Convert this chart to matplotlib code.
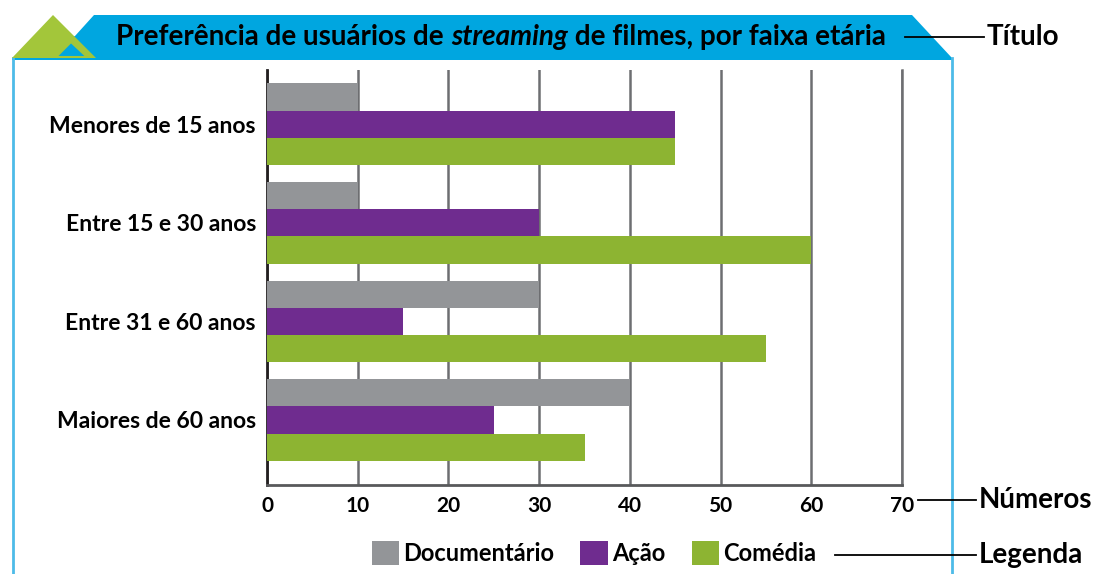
import matplotlib.pyplot as plt
import numpy as np
from matplotlib.patches import Polygon, Patch
from matplotlib.lines import Line2D

# data
groups = ["Menores de 15 anos", "Entre 15 e 30 anos", "Entre 31 e 60 anos", "Maiores de 60 anos"]
series = ["Documentário", "Ação", "Comédia"]
documentario = [10, 10, 30, 40]
acao = [45, 30, 15, 25]
comedia = [45, 60, 55, 35]
xticks = [0, 10, 20, 30, 40, 50, 60, 70]

colors = ["#939598", "#6f2c8f", "#8db432"]
blue = "#00a6e0"
W, H = 1097, 574
FONT = "Lato"


def px(x, y):
    # pixel position (from top left) -> figure fraction
    return (x / W, 1 - y / H)


fig = plt.figure(figsize=(W / 100, H / 100), dpi=100)

# frame and title banner
banner = Polygon([px(75, 36), px(94, 15), px(912, 15), px(952, 58), px(952, 60), px(12, 60), px(12, 58)],
                 closed=True, transform=fig.transFigure, facecolor=blue, edgecolor="none", zorder=1)
fig.patches.append(banner)
tri = Polygon([px(12, 58), px(53, 15), px(96, 58)], closed=True, transform=fig.transFigure,
              facecolor="#a3c63a", edgecolor="none", zorder=2)
fig.patches.append(tri)
tri2 = Polygon([px(56, 57), px(71, 42), px(87, 57)], closed=True, transform=fig.transFigure,
               facecolor=blue, edgecolor="#a3c63a", linewidth=1.5, zorder=3)
fig.patches.append(tri2)
for xx in (13, 952):
    fig.add_artist(Line2D([xx / W, xx / W], [0, 1 - 58 / H], color="#4dbbe8", lw=2, transform=fig.transFigure))

# title with italic word
parts = [("Preferência de usuários de ", "normal"), ("streaming", "italic"), (" de filmes, por faixa etária", "normal")]
renderer = fig.canvas.get_renderer()
txts = []
for s, st in parts:
    t = fig.text(0, 1 - 37 / H, s, fontsize=20, fontweight="bold", style=st, family=FONT,
                 va="center", ha="left", zorder=5)
    txts.append(t)
widths = [t.get_window_extent(renderer).width for t in txts]
x0 = 501 - sum(widths) / 2
for t, w in zip(txts, widths):
    t.set_x(x0 / W)
    x0 += w

# annotations on the right
ann = [("Título", 37, 905, 984), ("Números", 500, 918, 976), ("Legenda", 555, 835, 976)]
for label, yy, xa, xb in ann:
    fig.add_artist(Line2D([xa / W, xb / W], [1 - yy / H] * 2, color="black", lw=1.3, transform=fig.transFigure))
    fig.text((xb + 3) / W, 1 - yy / H, label, fontsize=20, fontweight="bold", family=FONT,
             va="center", ha="left")

# bar chart
ax = fig.add_axes([267 / W, 1 - 485 / H, (902 - 267) / W, (485 - 70) / H])
y = np.arange(len(groups))
h = 0.276
for i, vals in enumerate([documentario, acao, comedia]):
    ax.barh(y + (i - 1) * h, vals, height=h, color=colors[i], zorder=3)

ax.set_xlim(0, 70)
ax.set_ylim(3.66, -0.55)
ax.set_xticks(xticks)
ax.set_xticklabels([str(v) for v in xticks], fontsize=15, fontweight="bold", family=FONT)
ax.set_yticks(y)
ax.set_yticklabels(groups, fontsize=16.5, fontweight="bold", family=FONT)
ax.tick_params(length=0, pad=8)
ax.tick_params(axis="y", pad=8)
ax.grid(axis="x", color="#6d6e71", lw=1.8, zorder=1)
ax.spines["top"].set_visible(False)
ax.spines["right"].set_color("#6d6e71")
ax.spines["right"].set_linewidth(1.8)
ax.spines["left"].set_color("#231f20")
ax.spines["left"].set_linewidth(2)
ax.spines["bottom"].set_color("#58595b")
ax.spines["bottom"].set_linewidth(2)

handles = [Patch(facecolor=c) for c in colors]
fig.legend(handles, series, loc="center", bbox_to_anchor=px(594, 553), ncol=3, frameon=False,
           prop={"family": FONT, "weight": "bold", "size": 17}, handlelength=1.15, handleheight=1.15,
           handletextpad=0.2, columnspacing=1.1, borderaxespad=0)

fig.savefig("out.png", dpi=100)
